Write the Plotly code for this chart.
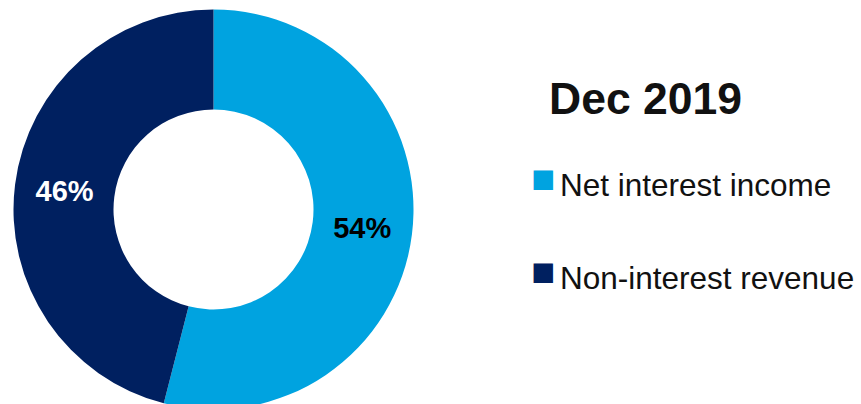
import plotly.graph_objects as go

# Revenue mix, December 2019
categories = ["Net interest income", "Non-interest revenue"]
shares = [54, 46]
slice_colors = ["#00A3E0", "#002060"]
label_colors = ["#000000", "#FFFFFF"]
period_label = "Dec 2019"

W, H = 861, 410
FONT = "Liberation Sans, Arial, sans-serif"

fig = go.Figure(
    go.Pie(
        labels=categories,
        values=shares,
        hole=0.5,
        sort=False,
        direction="clockwise",
        rotation=0,
        marker=dict(colors=slice_colors, line=dict(width=0)),
        texttemplate="%{percent:.0%}",
        textposition="inside",
        insidetextorientation="horizontal",
        insidetextfont=dict(family=FONT, size=29, color=label_colors, weight="bold"),
        domain=dict(x=[13.5 / W, 413.5 / W], y=[0.5 / H, 400.5 / H]),
        showlegend=False,
    )
)

# Heading above the key
fig.add_annotation(
    text=f"<b>{period_label}</b>",
    xref="paper", yref="paper",
    x=547 / W, y=1 - 72 / H,
    xanchor="left", yanchor="top",
    showarrow=False,
    font=dict(family=FONT, size=44.5, color="#111111"),
)

# Key: one swatch + label per category, stacked with a fixed row pitch
ROW_TOP = 164.5    # top of first label box (px from top)
ROW_PITCH = 93     # distance between rows (px)
for i, (name, color) in enumerate(zip(categories, slice_colors)):
    top = ROW_TOP + i * ROW_PITCH
    fig.add_annotation(
        text="■",
        xref="paper", yref="paper",
        x=529 / W, y=1 - (top - 10.5) / H,
        xanchor="left", yanchor="top",
        showarrow=False,
        font=dict(family=FONT, size=40, color=color),
    )
    fig.add_annotation(
        text=name,
        xref="paper", yref="paper",
        x=558 / W, y=1 - top / H,
        xanchor="left", yanchor="top",
        showarrow=False,
        font=dict(family=FONT, size=31.5, color="#111111"),
    )

fig.update_layout(
    width=W,
    height=H,
    margin=dict(l=0, r=0, t=0, b=0),
    paper_bgcolor="white",
    plot_bgcolor="white",
    showlegend=False,
)

fig.write_html(
    "out.html",
    post_script="document.documentElement.style.overflow='hidden';document.body.style.overflow='hidden';document.body.style.margin='0';",
)
